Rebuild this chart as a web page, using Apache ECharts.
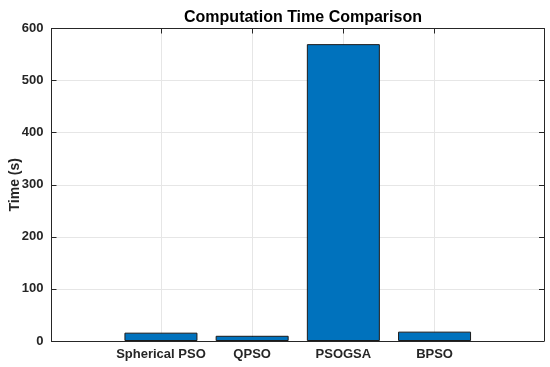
<!DOCTYPE html>
<html><head><meta charset="utf-8">
<script src="https://cdn.jsdelivr.net/npm/echarts@6/dist/echarts.min.js"></script>
<style>html,body{margin:0;padding:0;background:#fff}#c{width:550px;height:367px}</style>
</head><body><div id="c"></div>
<script>
const categories = ['Spherical PSO', 'QPSO', 'PSOGSA', 'BPSO'];
const times = [16, 10, 570, 18];
const yTicks = [0, 100, 200, 300, 400, 500, 600];

const positions = categories.map((c, i) => i + 1);
const font = 'Liberation Sans, Arial, Helvetica, sans-serif';
const chart = echarts.init(document.getElementById('c'));
chart.setOption({
  animation: false,
  title: {
    text: 'Computation Time Comparison', left: 298, top: 5, textAlign: 'center',
    textStyle: { fontFamily: font, fontWeight: 'bold', fontSize: 16, color: '#000' }
  },
  grid: { left: 51.5, right: 6, top: 28.5, bottom: 26, containLabel: false, outerBoundsMode: 'none' },
  xAxis: [{
    type: 'value', min: -0.2, max: 5.2,
    axisLine: { show: true, onZero: false, lineStyle: { color: '#262626', width: 1 } },
    axisTick: { show: true, inside: true, length: 5, customValues: positions, lineStyle: { color: '#262626' } },
    axisLabel: { show: true, customValues: positions, formatter: v => categories[Math.round(v) - 1] || '',
      fontFamily: font, fontWeight: 'bold', fontSize: 13, color: '#262626', margin: 7 },
    splitLine: { show: true, lineStyle: { color: '#e6e6e6', width: 1 } }
  }, {
    type: 'value', position: 'top', min: -0.2, max: 5.2,
    axisLine: { show: true, onZero: false, lineStyle: { color: '#262626', width: 1 } },
    axisTick: { show: true, inside: true, length: 5, customValues: positions, lineStyle: { color: '#262626' } },
    axisLabel: { show: false }, splitLine: { show: false }
  }],
  yAxis: [{
    type: 'value', min: 0, max: 600, interval: 100,
    name: 'Time (s)', nameLocation: 'middle', nameGap: 29.5, nameRotate: 90, nameMoveOverlap: false,
    nameTextStyle: { fontFamily: font, fontWeight: 'bold', fontSize: 14, color: '#262626' },
    axisLine: { show: true, onZero: false, lineStyle: { color: '#262626', width: 1 } },
    axisTick: { show: true, inside: true, length: 5, lineStyle: { color: '#262626' } },
    axisLabel: { fontFamily: font, fontWeight: 'bold', fontSize: 13, color: '#262626', margin: 8,
      formatter: v => yTicks.includes(v) ? String(v) : '' },
    splitLine: { show: true, lineStyle: { color: '#e6e6e6', width: 1 } }
  }, {
    type: 'value', position: 'right', min: 0, max: 600, interval: 100,
    axisLine: { show: true, onZero: false, lineStyle: { color: '#262626', width: 1 } },
    axisTick: { show: true, inside: true, length: 5, lineStyle: { color: '#262626' } },
    axisLabel: { show: false }, splitLine: { show: false }
  }],
  series: [{
    type: 'bar', xAxisIndex: 0, yAxisIndex: 0,
    data: positions.map((p, i) => [p, times[i]]),
    barWidth: 73,
    itemStyle: { color: '#0072BD', borderColor: '#1a1a1a', borderWidth: 1 }
  }]
});
</script></body></html>
